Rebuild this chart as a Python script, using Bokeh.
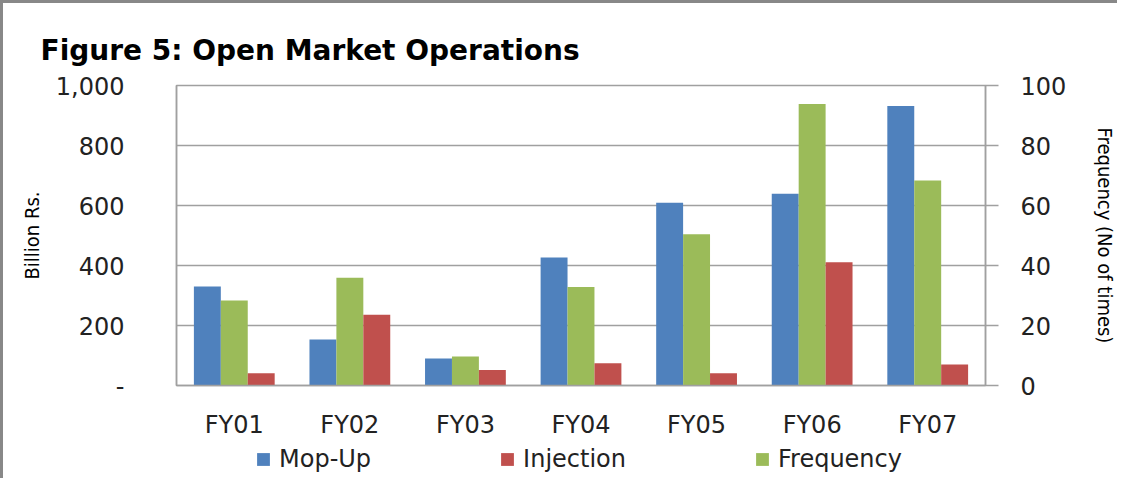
from bokeh.plotting import figure
from bokeh.layouts import column
from bokeh.models import (FactorRange, Range1d, LinearAxis, FixedTicker, NumeralTickFormatter,
                          ColumnDataSource, Legend, LegendItem)
from bokeh.transform import dodge
from bokeh.embed import file_html
from bokeh.resources import INLINE

categories = ["FY01", "FY02", "FY03", "FY04", "FY05", "FY06", "FY07"]
mop_up = [330, 153, 90, 427, 609, 639, 932]
injection = [41, 236, 52, 74, 41, 411, 70]
frequency = [28.3, 35.9, 9.7, 32.8, 50.4, 93.8, 68.3]
series_names = ["Mop-Up", "Injection", "Frequency"]
left_ticks = [0, 200, 400, 600, 800, 1000]
right_ticks = [0, 20, 40, 60, 80, 100]

BLUE = "#4F81BD"
RED = "#C0504D"
GREEN = "#9BBB59"
GRID = "#A0A0A0"
TICK_FONT = "DejaVu Sans"
NARROW = "DejaVu Sans Condensed, Liberation Sans Narrow, Liberation Sans, sans-serif"

src = ColumnDataSource(dict(cat=categories, mop=mop_up, inj=injection, freq=frequency))

p = figure(width=1117, height=440, x_range=FactorRange(*categories, range_padding=0),
           y_range=Range1d(0, 1000), output_backend="svg", toolbar_location=None,
           min_border_left=173, min_border_right=125, min_border_top=82, min_border_bottom=58)
p.extra_y_ranges = {"freq": Range1d(0, 100)}

bw = 0.233
p.vbar(x=dodge("cat", -bw, range=p.x_range), top="mop", width=bw, source=src,
       fill_color=BLUE, line_color=None)
p.vbar(x=dodge("cat", 0, range=p.x_range), top="freq", width=bw, source=src,
       fill_color=GREEN, line_color=None, y_range_name="freq")
p.vbar(x=dodge("cat", bw, range=p.x_range), top="inj", width=bw, source=src,
       fill_color=RED, line_color=None)

p.title.text = "Figure 5: Open Market Operations"
p.title.text_font = "DejaVu Sans"
p.title.text_font_size = "28px"
p.title.text_font_style = "bold"
p.title.text_color = "#000000"
p.title.align = "left"
p.title.offset = -136
p.title.standoff = 37

p.outline_line_color = GRID
p.outline_line_width = 1.5
p.background_fill_color = "white"
p.border_fill_color = "white"
p.styles = {"border-top": "3px solid #888888", "border-left": "3px solid #888888"}

p.xgrid.grid_line_color = None
p.ygrid.ticker = FixedTicker(ticks=left_ticks)
p.ygrid.grid_line_color = GRID
p.ygrid.grid_line_width = 1.5

# left axis
ya = p.yaxis[0]
ya.ticker = FixedTicker(ticks=left_ticks)
ya.formatter = NumeralTickFormatter(format="0,0")
ya.major_label_overrides = {0: "-"}
ya.axis_line_color = GRID
ya.axis_line_width = 1.5
ya.major_tick_line_color = None
ya.minor_tick_line_color = None
ya.major_label_text_font = TICK_FONT
ya.major_label_text_font_size = "24px"
ya.major_label_text_color = "#222222"
ya.major_label_standoff = 46
ya.axis_label = "Billion Rs."
ya.axis_label_text_font = NARROW
ya.axis_label_text_font_size = "20px"
ya.axis_label_text_font_style = "normal"
ya.axis_label_text_color = "#000000"
ya.axis_label_standoff = 9

# right axis
ra = LinearAxis(y_range_name="freq", ticker=FixedTicker(ticks=right_ticks))
ra.axis_line_color = GRID
ra.axis_line_width = 1.5
ra.major_tick_line_color = GRID
ra.major_tick_line_width = 1.5
ra.major_tick_in = 0
ra.major_tick_out = 13
ra.minor_tick_line_color = None
ra.major_label_text_font = TICK_FONT
ra.major_label_text_font_size = "24px"
ra.major_label_text_color = "#222222"
ra.major_label_standoff = 22
ra.axis_label = "Frequency (No of times)"
ra.axis_label_text_font = NARROW
ra.axis_label_text_font_size = "20px"
ra.axis_label_text_font_style = "normal"
ra.axis_label_text_color = "#000000"
ra.axis_label_standoff = 24
p.add_layout(ra, "right")

# x axis
xa = p.xaxis[0]
xa.axis_line_color = GRID
xa.axis_line_width = 1.5
xa.major_tick_line_color = None
xa.minor_tick_line_color = None
xa.major_label_text_font = TICK_FONT
xa.major_label_text_font_size = "24px"
xa.major_label_text_color = "#222222"
xa.major_label_standoff = 19

# legend strip (separate figure below the chart; its bars fall outside its y range)
lg = figure(width=1117, height=38, x_range=p.x_range, y_range=Range1d(5000, 6000),
            output_backend="svg", toolbar_location=None,
            min_border_left=0, min_border_right=0, min_border_top=0, min_border_bottom=0)
lg.axis.visible = False
lg.grid.visible = False
lg.outline_line_color = None
lg.styles = {"border-left": "3px solid #888888"}
items = []
for name, col, c in zip(series_names, ["mop", "inj", "freq"], [BLUE, RED, GREEN]):
    r = lg.vbar(x="cat", top=col, width=bw, source=src, fill_color=c, line_color=None)
    items.append(LegendItem(label=name, renderers=[r]))

legend = Legend(items=items, orientation="horizontal", location=(79, 5))
legend.label_text_font = TICK_FONT
legend.label_text_font_size = "24px"
legend.label_text_color = "#222222"
legend.glyph_width = 16
legend.glyph_height = 16
legend.label_standoff = 8
legend.spacing = 128
legend.padding = 0
legend.margin = 0
legend.border_line_color = None
legend.background_fill_alpha = 0
lg.add_layout(legend, "center")

layout = column(p, lg, spacing=0)
open("out.html", "w").write(file_html(layout, INLINE))
